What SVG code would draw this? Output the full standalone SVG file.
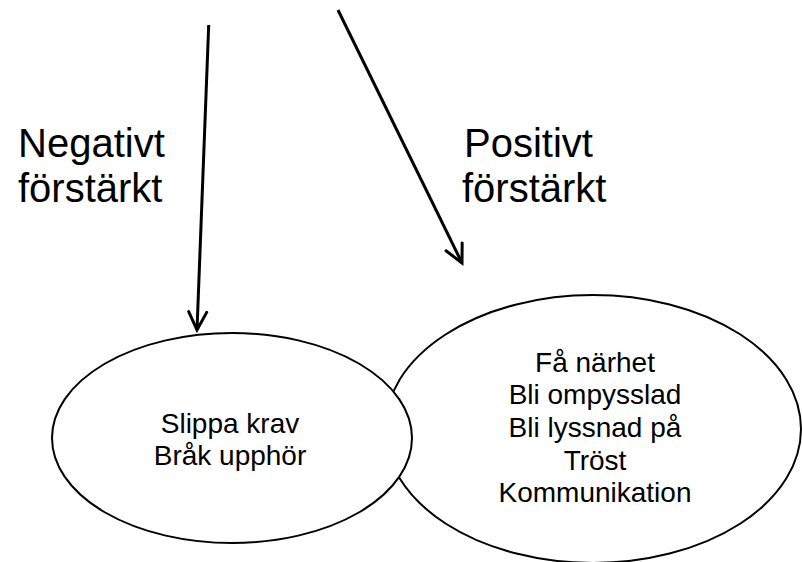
<svg xmlns="http://www.w3.org/2000/svg" width="802" height="562" viewBox="0 0 802 562">
  <style>
    .label { font-family: "Liberation Sans", Arial, sans-serif; font-size: 40px; fill: #000; }
    .node-text { font-family: "Liberation Sans", Arial, sans-serif; font-size: 28px; fill: #000; text-anchor: middle; }
    .node-shape { fill: #fff; stroke: #000; stroke-width: 2; }
    .edge { stroke: #000; stroke-width: 3; fill: none; marker-end: url(#chevron); }
  </style>
  <defs>
    <marker id="chevron" markerUnits="userSpaceOnUse" viewBox="-20 -12 24 24" refX="0" refY="0" markerWidth="24" markerHeight="24" orient="auto">
      <path d="M-18,-9 L0,0 L-18,9" fill="none" stroke="#000" stroke-width="3" stroke-linecap="round" stroke-linejoin="miter"/>
    </marker>
  </defs>
  <rect width="802" height="562" fill="#fff"/>

  <!-- arrows -->
  <g id="connectors">
    <line class="edge" x1="208.7" y1="25" x2="197" y2="330"/>
    <line class="edge" x1="338" y1="10" x2="462" y2="263"/>
  </g>

  <!-- side labels -->
  <g id="label-negative">
    <text class="label" x="18" y="157">Negativt</text>
    <text class="label" x="18" y="202">förstärkt</text>
  </g>
  <g id="label-positive">
    <text class="label" x="464" y="157">Positivt</text>
    <text class="label" x="462" y="202">förstärkt</text>
  </g>

  <!-- right ellipse (drawn first, left one overlaps it) -->
  <g id="node-positive">
    <ellipse class="node-shape" cx="593" cy="429" rx="208" ry="134"/>
    <text class="node-text" x="595" y="372">Få närhet</text>
    <text class="node-text" x="595" y="404">Bli ompysslad</text>
    <text class="node-text" x="595" y="437">Bli lyssnad på</text>
    <text class="node-text" x="595" y="470">Tröst</text>
    <text class="node-text" x="595" y="502">Kommunikation</text>
  </g>

  <g id="node-negative">
    <ellipse class="node-shape" cx="232" cy="438" rx="180" ry="105"/>
    <text class="node-text" x="230" y="433">Slippa krav</text>
    <text class="node-text" x="230" y="465">Bråk upphör</text>
  </g>
</svg>
